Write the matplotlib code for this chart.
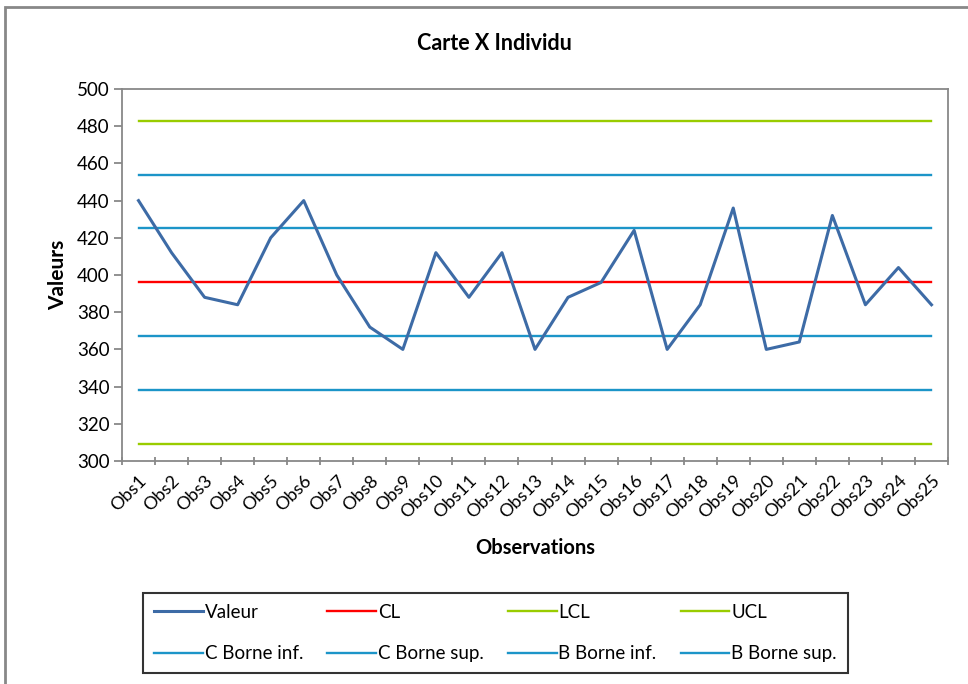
import matplotlib
matplotlib.use("Agg")
import matplotlib.pyplot as plt
from matplotlib.patches import Rectangle

plt.rcParams['font.family'] = ['Lato', 'DejaVu Sans']

# observations
obs = ['Obs' + str(i) for i in range(1, 26)]
valeur = [440, 412, 388, 384, 420, 440, 400, 372, 360, 412, 388, 412, 360,
          388, 396, 424, 360, 384, 436, 360, 364, 432, 384, 404, 384]

# control limits
cl = 396.16
lcl = 309.4
ucl = 482.9
c_inf = 367.2
c_sup = 425.1
b_inf = 338.3
b_sup = 454.0

x = list(range(1, len(obs) + 1))
n = len(obs)

fig = plt.figure(figsize=(9.68, 6.84), dpi=100)
# outer chart frame
fig.patches.append(Rectangle((5/968, -0.1), 1.2, (684-7)/684 + 0.1, transform=fig.transFigure,
                             fill=False, edgecolor='#888888', linewidth=2))

ax = fig.add_axes([122/968, (684-461)/684, (948-122)/968, (461-89)/684])

blue_line = '#1C95C8'
green = '#99CC00'
h_val, = ax.plot(x, valeur, color='#3D6BA6', lw=2.2, label='Valeur', zorder=5)
h_cl, = ax.plot(x, [cl]*n, color='#FF0000', lw=1.7, label='CL')
h_lcl, = ax.plot(x, [lcl]*n, color=green, lw=1.7, label='LCL')
h_ucl, = ax.plot(x, [ucl]*n, color=green, lw=1.7, label='UCL')
h_cinf, = ax.plot(x, [c_inf]*n, color=blue_line, lw=1.7, label='C Borne inf.')
h_csup, = ax.plot(x, [c_sup]*n, color=blue_line, lw=1.7, label='C Borne sup.')
h_binf, = ax.plot(x, [b_inf]*n, color=blue_line, lw=1.7, label='B Borne inf.')
h_bsup, = ax.plot(x, [b_sup]*n, color=blue_line, lw=1.7, label='B Borne sup.')

ax.set_xlim(0.5, n + 0.5)
ax.set_ylim(300, 500)
ax.set_yticks(range(300, 501, 20))
ax.set_xticks(x)
ax.set_xticklabels(obs, rotation=45, ha='right', rotation_mode='anchor', fontsize=13)
ax.set_xticks([i + 0.5 for i in range(0, n + 1)], minor=True)
ax.tick_params(axis='x', which='major', length=0, pad=8)
ax.tick_params(axis='x', which='minor', length=6, width=1.3, color='#888888', direction='inout')
ax.tick_params(axis='y', length=6, width=1.3, color='#888888', labelsize=13.5, direction='out', pad=3)
for s in ax.spines.values():
    s.set_color('#888888')
    s.set_linewidth(1.3)

fig.text(494/968, 1 - 43/684, 'Carte X Individu', fontsize=15.5, fontweight='bold',
         ha='center', va='center')
ax.set_ylabel('Valeurs', fontsize=15, fontweight='bold', labelpad=6)
ax.set_xlabel('Observations', fontsize=14.5, fontweight='bold', labelpad=12)

# row-major order for a 4-column legend
handles = [h_val, h_cinf, h_cl, h_csup, h_lcl, h_binf, h_ucl, h_bsup]
leg = fig.legend(handles=handles, labels=[h.get_label() for h in handles],
                 loc='center', bbox_to_anchor=(143/968, (684-675)/684, (848-143)/968, 84/684),
                 mode='expand', ncol=4, fontsize=13.5, frameon=True, fancybox=False,
                 handlelength=2.6, handletextpad=0.1, labelspacing=1.3, borderpad=0.6,
                 borderaxespad=0)
leg.get_frame().set_edgecolor('black')
leg.get_frame().set_linewidth(1.5)

fig.savefig('out.png', dpi=100)
